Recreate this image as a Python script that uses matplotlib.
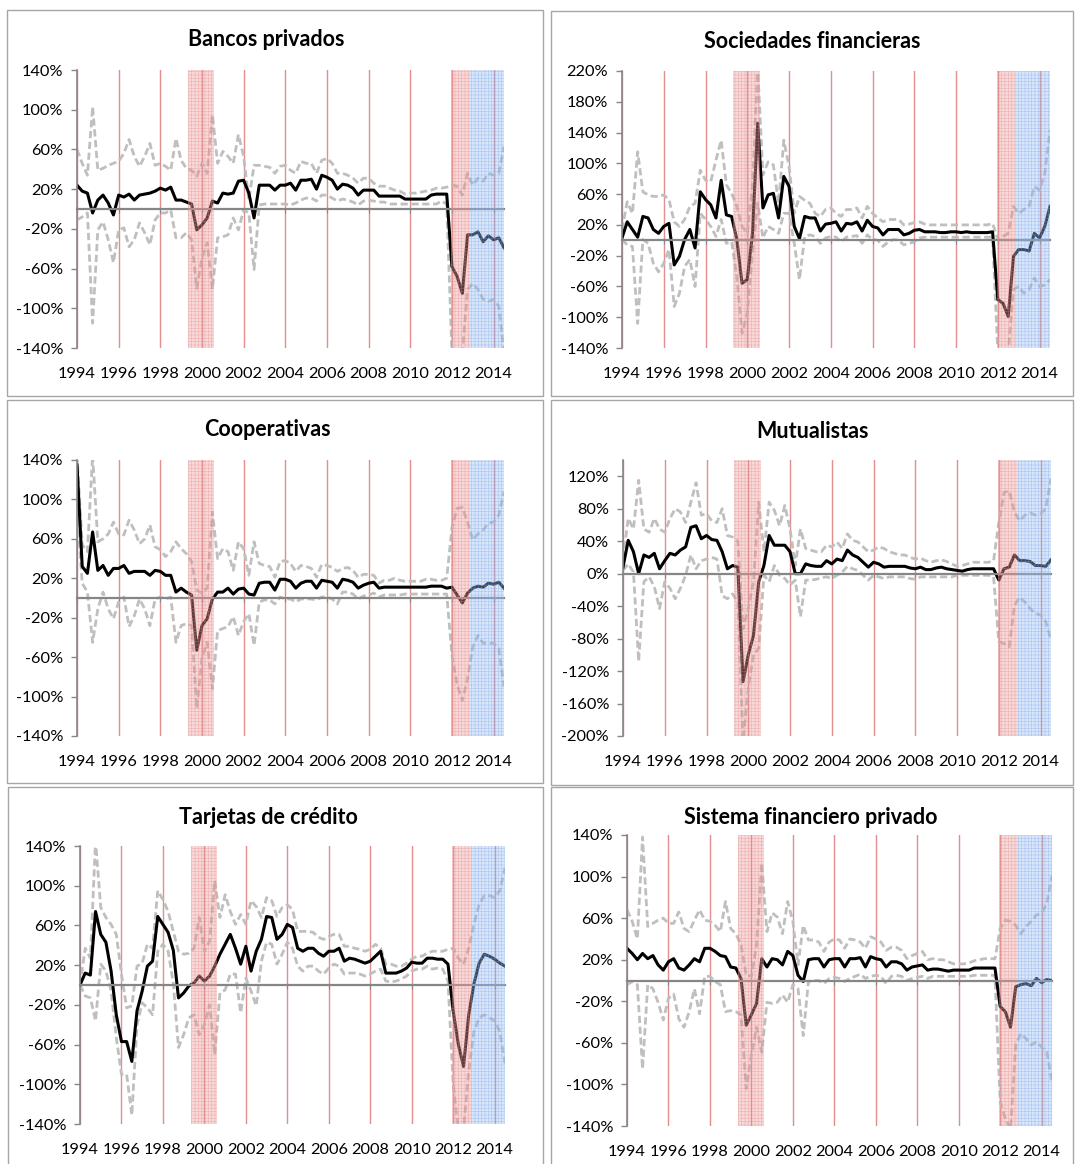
import numpy as np
import matplotlib
matplotlib.use("Agg")
import matplotlib.pyplot as plt
from matplotlib.patches import Rectangle

# Quarterly observations, 1994Q1 .. 2014Q3
quarters = 1994 + np.arange(83) / 4.0
year_ticks = list(range(1994, 2015, 2))

# Shaded periods (start, end)
red_periods = [(1999.34, 2000.60), (2011.95, 2012.86)]
blue_periods = [(2012.86, 2014.5)]

# --- Bancos privados ---
bancos_tasa = [24, 18, 16, -4, 9, 14, 6, -6, 14, 12, 15, 9, 14, 15, 16, 18,
               21, 19, 22, 9, 9, 7, 5, -21, -16, -9, 8, 6, 16, 15, 16, 28,
               29, 16, -9, 24, 24, 24, 19, 24, 24, 26, 19, 29, 29, 30, 20, 34,
               32, 29, 20, 25, 24, 21, 14, 19, 19, 19, 13, 13, 13, 13, 13, 10,
               10, 10, 10, 10, 14, 15, 15, 15, -58, -68, -85, -26, -26, -23, -33, -27,
               -31, -29, -39]
bancos_sup = [60, 46, 34, 103, 39, 41, 44, 46, 48, 56, 70, 53, 43, 53, 66, 44,
              46, 43, 39, 71, 49, 41, 39, 33, 46, 36, 95, 46, 58, 53, 46, 75,
              53, 9, 44, 44, 43, 42, 36, 43, 44, 39, 36, 48, 46, 46, 36, 49,
              51, 46, 36, 36, 34, 31, 26, 31, 31, 26, 23, 23, 21, 19, 18, 15,
              16, 16, 17, 18, 19, 21, 21, 22, 24, 23, 14, 36, 24, 31, 28, 36,
              34, 36, 63]
bancos_inf = [-11, -8, -4, -115, -21, -13, -31, -54, -21, -19, -38, -31, -14, -24, -36, -11,
              -4, -4, -1, -29, -29, -24, -31, -80, -49, -34, -81, -29, -28, -26, -9, -21,
              -1, -4, -61, 4, 5, 5, 5, 5, 5, 4, 6, 9, 11, 11, 8, 14,
              14, 11, 8, 10, 9, 7, 4, 8, 9, 8, 7, 7, 5, 5, 5, 5,
              5, 5, 5, 5, 5, 5, 8, 5, -145, -145, -145, -81, -75, -81, -91, -93,
              -91, -98, -145]

# --- Sociedades financieras ---
sociedades_tasa = [3, 24, 14, 4, 31, 29, 14, 9, 18, 22, -32, -21, 1, 14, -10, 63,
                   53, 46, 29, 78, 33, 31, 1, -56, -51, 9, 152, 42, 59, 61, 29, 83,
                   70, 18, 2, 31, 29, 29, 12, 21, 22, 24, 12, 22, 21, 24, 12, 26,
                   18, 16, 7, 14, 14, 14, 7, 9, 13, 14, 11, 11, 11, 10, 10, 11,
                   11, 10, 11, 10, 10, 10, 10, 11, -77, -82, -99, -21, -12, -12, -14, 9,
                   3, 18, 44]
sociedades_sup = [14, 50, 35, 115, 63, 59, 57, 57, 59, 53, 24, 18, 27, 44, 48, 91,
                  78, 76, 104, 130, 72, 61, 44, 18, 9, 70, 225, 85, 102, 98, 48, 130,
                  96, 35, 57, 52, 48, 35, 31, 40, 42, 35, 31, 40, 40, 42, 29, 44,
                  35, 29, 24, 27, 27, 27, 20, 21, 23, 24, 21, 20, 20, 20, 20, 20,
                  20, 20, 20, 20, 20, 20, 20, 22, 1, 5, 9, 44, 35, 40, 44, 70,
                  65, 87, 143]
sociedades_inf = [1, -6, -8, -108, 1, -4, -30, -41, -30, -12, -86, -69, -34, -25, -60, 35,
                  27, 18, 5, 27, -4, -2, -47, -121, -95, -17, 48, 3, 18, 14, 9, 35,
                  35, -4, -51, 5, 7, 5, -4, 3, 5, 4, -2, 4, 5, 6, -4, 7,
                  1, 0, -8, -2, 1, 0, -6, -4, -2, 3, 4, 4, 4, 4, 4, 4,
                  4, 4, 4, 4, 4, 4, 4, 4, -145, -145, -145, -64, -60, -69, -64, -49,
                  -60, -58, -51]

# --- Cooperativas ---
cooperativas_tasa = [135, 32, 25, 67, 28, 33, 23, 30, 30, 33, 25, 27, 27, 27, 23, 28,
                     27, 23, 23, 6, 10, 6, 3, -53, -28, -21, -1, 6, 6, 10, 4, 9,
                     10, 4, 3, 15, 16, 16, 8, 19, 19, 17, 10, 15, 17, 17, 10, 18,
                     17, 16, 10, 19, 18, 16, 10, 13, 15, 16, 10, 11, 11, 11, 11, 11,
                     11, 11, 11, 11, 12, 12, 12, 10, 11, 3, -5, 5, 10, 12, 11, 15,
                     14, 16, 10]
cooperativas_sup = [145, 54, 47, 145, 57, 60, 65, 77, 65, 64, 79, 69, 55, 60, 74, 52,
                    49, 42, 47, 57, 50, 45, 37, 8, 5, 10, 87, 40, 50, 47, 28, 57,
                    50, 23, 57, 35, 33, 32, 21, 37, 38, 35, 27, 33, 32, 30, 21, 34,
                    33, 31, 27, 30, 31, 28, 21, 24, 24, 23, 15, 18, 18, 20, 18, 17,
                    17, 17, 17, 19, 19, 18, 18, 20, 71, 91, 92, 77, 59, 65, 69, 76,
                    77, 84, 108]
cooperativas_inf = [91, 15, 6, -45, -11, 6, -11, -21, -4, 1, -29, -18, -1, -11, -28, -1,
                    1, -1, 1, -45, -28, -26, -28, -112, -61, -45, -92, -33, -31, -29, -19, -38,
                    -24, -16, -48, -4, -2, -2, -6, 1, -1, -1, -4, -1, -1, -1, -2, 1,
                    1, -1, -6, 6, 6, 4, -1, 2, 3, 5, 1, 3, 3, 3, 3, 4,
                    4, 4, 4, 4, 4, 4, 4, 4, -58, -88, -104, -82, -50, -38, -46, -46,
                    -46, -51, -90]

# --- Mutualistas ---
mutualistas_tasa = [8, 41, 27, 0, 23, 20, 25, 6, 16, 25, 23, 29, 33, 57, 59, 43,
                    47, 42, 41, 27, 6, 10, 8, -133, -100, -76, -10, 10, 47, 35, 35, 35,
                    27, 0, 0, 12, 10, 9, 9, 16, 12, 18, 16, 29, 23, 20, 14, 8,
                    14, 12, 8, 9, 9, 9, 9, 7, 6, 8, 5, 5, 7, 8, 6, 5,
                    4, 3, 5, 6, 6, 6, 6, 6, -8, 6, 8, 23, 16, 16, 15, 10,
                    10, 9, 17]
mutualistas_sup = [18, 68, 55, 115, 55, 51, 68, 55, 51, 68, 80, 76, 63, 88, 112, 72,
                   74, 65, 63, 80, 47, 45, 40, -68, -43, -10, 88, 27, 88, 78, 59, 84,
                   55, 10, 55, 31, 29, 27, 27, 35, 33, 39, 31, 49, 41, 39, 33, 27,
                   29, 33, 31, 27, 25, 23, 23, 20, 18, 19, 16, 14, 16, 17, 15, 12,
                   9, 10, 12, 14, 14, 14, 14, 16, 63, 100, 102, 76, 65, 72, 75, 72,
                   74, 80, 117]
mutualistas_inf = [4, 12, 2, -108, -10, -4, -16, -43, -10, -18, -31, -18, -2, 23, 6, 16,
                   18, 20, 18, -27, -31, -25, -35, -205, -141, -100, -92, -2, -10, 10, -2, -6,
                   -14, -8, -53, -8, -8, -7, -5, -4, -6, -2, 2, 9, 6, 4, -2, -8,
                   -2, -4, -6, -4, -4, -4, -4, -6, -7, -4, -4, -4, -4, -4, -4, -4,
                   -2, -2, -2, -2, -2, -2, -2, -4, -84, -86, -90, -39, -29, -35, -43, -49,
                   -51, -59, -82]

# --- Tarjetas de crédito ---
tarjetas_tasa = [0, 12, 10, 74, 51, 43, 14, -30, -57, -57, -77, -26, -6, 19, 24, 69,
                 61, 53, 35, -13, -8, -1, 2, 9, 4, 9, 19, 31, 41, 51, 37, 21,
                 39, 14, 34, 46, 69, 68, 46, 51, 61, 58, 37, 34, 37, 37, 32, 29,
                 34, 34, 37, 24, 27, 26, 24, 22, 24, 29, 34, 12, 12, 12, 14, 17,
                 23, 22, 22, 27, 27, 26, 26, 21, -26, -60, -82, -30, 1, 22, 31, 29,
                 26, 22, 19]
tarjetas_sup = [0, 37, 27, 145, 78, 68, 61, 51, 11, -23, -21, 19, 22, 41, 37, 95,
                86, 74, 54, 34, 31, 32, 37, 68, 34, 44, 105, 68, 91, 74, 61, 71,
                61, 85, 79, 68, 88, 85, 69, 78, 81, 76, 54, 54, 54, 53, 48, 46,
                49, 51, 51, 39, 39, 37, 36, 34, 36, 41, 37, 21, 21, 19, 19, 22,
                26, 29, 29, 32, 34, 34, 34, 36, 37, 27, 21, 37, 61, 81, 90, 90,
                88, 95, 118]
tarjetas_inf = [0, -11, -13, -36, 21, 14, -6, -53, -90, -90, -131, -40, -18, -23, -30, 34,
                41, 34, 2, -63, -50, -33, -30, -50, -40, -20, -70, -8, -5, 11, 11, -28,
                7, -6, -21, 24, 43, 41, 21, 31, 43, 37, 19, 14, 19, 19, 14, 11,
                17, 21, 19, 11, 12, 12, 11, 9, 11, 14, 16, 4, 3, 4, 6, 9,
                14, 16, 16, 19, 16, 17, 16, 4, -100, -145, -145, -87, -47, -33, -30, -33,
                -36, -47, -79]

# --- Sistema financiero privado ---
sistema_tasa = [31, 26, 20, 26, 21, 24, 15, 10, 18, 21, 12, 10, 15, 21, 18, 31,
                31, 28, 24, 23, 13, 12, 2, -43, -33, -22, 21, 13, 21, 20, 15, 28,
                24, 5, -1, 20, 21, 21, 13, 20, 21, 21, 13, 21, 21, 22, 13, 23,
                21, 20, 13, 18, 18, 16, 10, 13, 14, 15, 10, 11, 11, 10, 9, 10,
                10, 10, 10, 12, 12, 12, 12, 12, -25, -30, -45, -6, -4, -3, -5, 2,
                -2, 1, 0]
sistema_sup = [68, 57, 40, 138, 52, 55, 58, 60, 55, 55, 66, 50, 47, 58, 68, 58,
               57, 53, 47, 76, 50, 45, 34, 5, 4, 34, 113, 47, 65, 61, 45, 76,
               57, 15, 53, 39, 39, 37, 28, 37, 40, 39, 31, 40, 39, 37, 31, 42,
               40, 37, 29, 32, 32, 29, 21, 24, 26, 28, 20, 21, 20, 20, 18, 16,
               16, 16, 17, 19, 20, 21, 21, 21, 50, 58, 57, 53, 45, 52, 57, 63,
               65, 74, 101]
sistema_inf = [-4, -1, -4, -85, -4, -8, -21, -38, -17, -13, -37, -45, -30, -8, -32, 4,
               4, -1, -4, -30, -29, -30, -33, -104, -72, -45, -69, -21, -22, -21, -14, -21,
               -4, -8, -53, -1, 0, 0, -3, 2, 3, 2, -1, 2, 4, 6, 2, 4,
               5, 4, -3, 4, 5, 4, 0, 2, 3, 4, 2, 4, 4, 4, 4, 4,
               4, 4, 4, 5, 5, 5, 5, 5, -117, -133, -143, -62, -51, -56, -62, -59,
               -64, -69, -98]

titles = ["Bancos privados", "Sociedades financieras", "Cooperativas",
          "Mutualistas", "Tarjetas de crédito", "Sistema financiero privado"]
series = [(bancos_tasa, bancos_sup, bancos_inf),
          (sociedades_tasa, sociedades_sup, sociedades_inf),
          (cooperativas_tasa, cooperativas_sup, cooperativas_inf),
          (mutualistas_tasa, mutualistas_sup, mutualistas_inf),
          (tarjetas_tasa, tarjetas_sup, tarjetas_inf),
          (sistema_tasa, sistema_sup, sistema_inf)]
y_ranges = [(-140, 140, 40), (-140, 220, 40), (-140, 140, 40),
            (-200, 140, 40), (-140, 140, 40), (-140, 140, 40)]

# ---------------------------------------------------------------------------
W, H = 1076, 1164
tick_font = "Lato"
tick_size = 11.8
title_font = "Lato"

plt.rcParams["hatch.linewidth"] = 0.5
fig = plt.figure(figsize=(W / 100, H / 100), dpi=100)
fig.patch.set_facecolor("white")

# panel frames (pixel boxes: left, top, right, bottom)
frames = [(7, 10, 543, 396), (551, 11, 1073, 396),
          (7, 400, 543, 783), (551, 400, 1073, 785),
          (8, 787, 543, 1175), (551, 787, 1073, 1175)]
# plot areas (pixel boxes)
areas = [(77, 70, 504, 348), (622, 71, 1050, 348),
         (77, 460, 504, 736), (623, 460, 1051, 736),
         (80, 846, 505, 1124), (627, 835, 1052, 1126)]
title_pos = [(266, 40), (812, 41), (267, 430), (813, 431), (268, 817), (811, 818)]

grey = "#868686"
for i in range(6):
    fl, ft, fr, fb = frames[i]
    fig.patches.append(Rectangle((fl / W, 1 - fb / H), (fr - fl) / W, (fb - ft) / H,
                                 transform=fig.transFigure, fill=False,
                                 edgecolor="#a6a6a6", linewidth=1.0))
    l, t, r, b = areas[i]
    ax = fig.add_axes([l / W, 1 - b / H, (r - l) / W, (b - t) / H])
    ymin, ymax, step = y_ranges[i]
    tasa, sup, inf = series[i]

    ax.plot(quarters, sup, color="#bfbfbf", lw=2.0, dashes=(2.6, 1.3), zorder=2)
    ax.plot(quarters, inf, color="#bfbfbf", lw=2.0, dashes=(2.6, 1.3), zorder=2)
    ax.plot(quarters, tasa, color="black", lw=2.2, zorder=2.2, solid_joinstyle="round")

    for a, z in red_periods:
        ax.axvspan(a, z, facecolor=(0.93, 0.62, 0.62, 0.38), edgecolor=(0.88, 0.50, 0.50, 0.40),
                   hatch="+++++", linewidth=0, zorder=3)
    for a, z in blue_periods:
        ax.axvspan(a, z, facecolor=(0.62, 0.76, 0.95, 0.38), edgecolor=(0.45, 0.62, 0.90, 0.40),
                   hatch="+++++", linewidth=0, zorder=3)

    ax.set_xlim(1994, 2014.5)
    ax.set_ylim(ymin, ymax)
    ticks = list(range(ymin, ymax if ymin == -200 else ymax + 1, step))
    ax.set_yticks(ticks)
    ax.set_yticklabels([f"{v}%" for v in ticks], fontfamily=tick_font, fontsize=tick_size)
    ax.tick_params(axis="y", direction="out", length=4, width=1, color=grey, pad=6)

    # category axis crossing at zero
    ax.spines["bottom"].set_position(("data", 0))
    ax.spines["bottom"].set_color(grey)
    ax.spines["bottom"].set_linewidth(1.6)
    ax.spines["bottom"].set_zorder(2.5)
    ax.spines["left"].set_color(grey)
    ax.spines["left"].set_linewidth(1.2)
    ax.spines["top"].set_visible(False)
    ax.spines["right"].set_visible(False)
    ax.set_xticks(year_ticks)
    ax.tick_params(axis="x", direction="out", length=3, color=grey, labelbottom=False)
    ax.grid(axis="x", color="#e38e8e", lw=1.0, zorder=1, snap=True)
    ax.set_axisbelow(True)

    sec = ax.secondary_xaxis(0)
    sec.set_xticks(year_ticks)
    sec.set_xticklabels([str(y) for y in year_ticks], fontfamily=tick_font, fontsize=tick_size)
    sec.tick_params(length=0, pad=14)
    sec.spines["bottom"].set_visible(False)

    tx, ty = title_pos[i]
    fig.text(tx / W, 1 - ty / H, titles[i], ha="center", va="center",
             fontfamily=title_font, fontweight="bold", fontsize=15.5)

fig.savefig("out.png", dpi=100, facecolor="white")
